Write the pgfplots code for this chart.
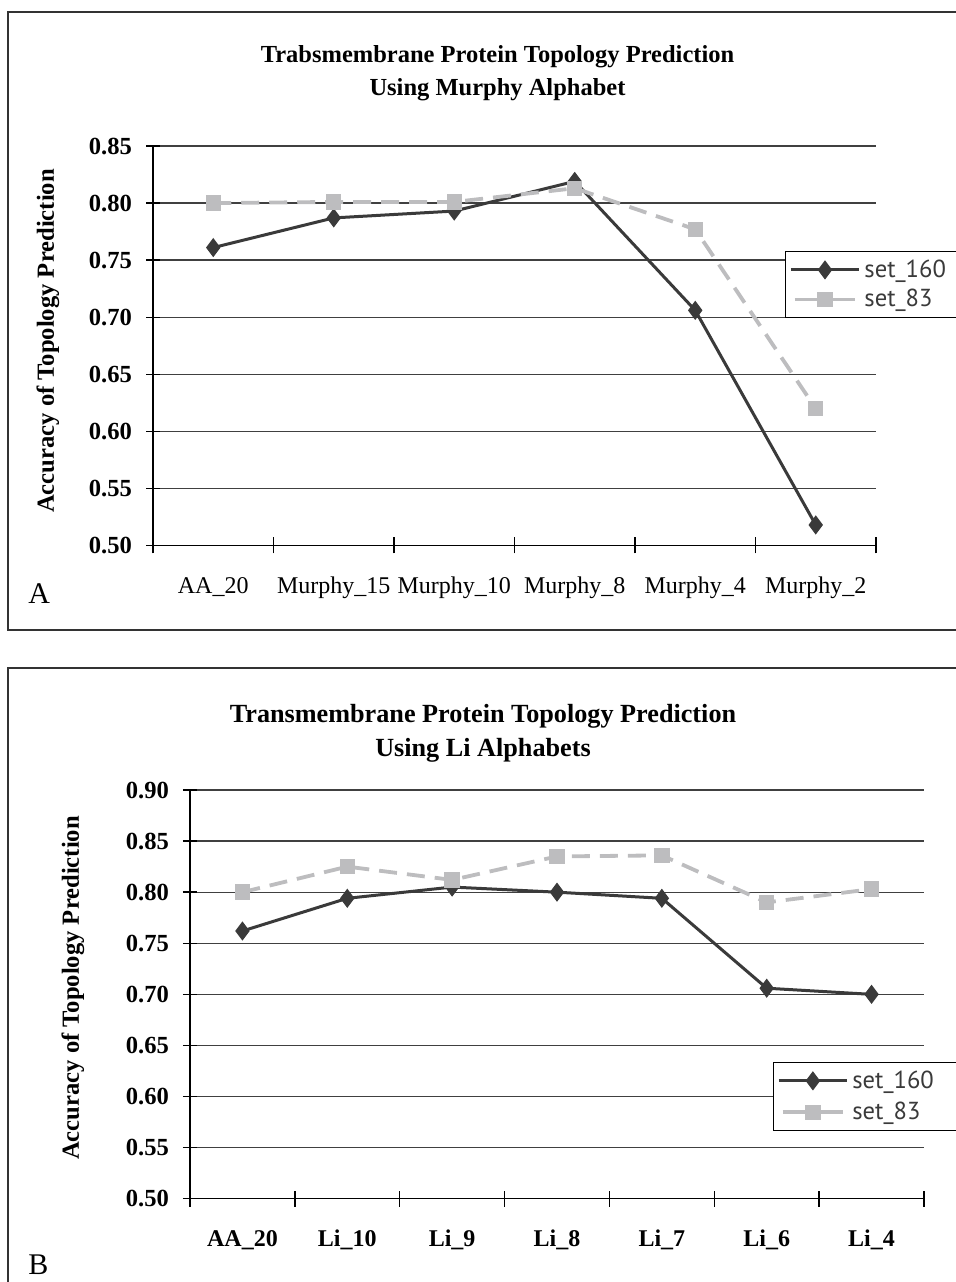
\documentclass[border=0pt]{standalone}
\usepackage{fontspec}
\setmainfont{Liberation Serif}
\newfontfamily\legfont{PT Sans}
\usepackage{pgfplots}
\pgfplotsset{compat=1.18}
\definecolor{dark}{HTML}{3A3A3A}
\definecolor{light}{HTML}{BDBDBF}
\pgfplotsset{
  panel/.style={
    scale only axis,
    axis x line*=bottom, axis y line*=left,
    xmin=0.5, ymin=0.5,
    ymajorgrids,
    grid style={black!75, line width=0.65pt},
    axis line style={black, line width=0.7pt},
    tick align=center,
    major tick length=7pt,
    minor tick length=8pt,
    tick style={black, line width=0.7pt},
    major x tick style={draw=none},
    yticklabel style={/pgf/number format/.cd, fixed, fixed zerofill, precision=2, assume math mode=true, /tikz/.cd, font=\bfseries\fontsize{12.3}{14}\selectfont, xshift=-3.5pt},
    xticklabel style={anchor=base, yshift=-20.5pt},
    legend cell align=left,
    legend image code/.code={\draw[mark repeat=2,mark phase=2,##1] plot coordinates {(0pt,0pt) (17pt,0pt) (34pt,0pt)};},
  },
  s160/.style={dark, line width=1.5pt, mark=diamond*, mark size=4.4pt, mark options={solid, fill=dark, line width=0.5pt}},
  s83/.style={light, line width=1.9pt, dash pattern=on 9pt off 5pt, mark=square*, mark size=3.6pt, mark options={solid, fill=light, line width=0.5pt},
    legend image code/.code={\draw[mark repeat=2,mark phase=2,##1,solid] plot coordinates {(2pt,0pt) (17pt,0pt) (32pt,0pt)};}},
}
\begin{document}
\begin{tikzpicture}
\path[use as bounding box] (0,0) rectangle (478pt,641pt);
% frames
\draw[line width=1pt, black!80] (500pt,635pt) -- (4pt,635pt) -- (4pt,326pt) -- (500pt,326pt);
\draw[line width=1pt, black!80] (500pt,307pt) -- (4pt,307pt) -- (4pt,-10pt);
% titles
\node[anchor=base, font=\bfseries\fontsize{12.25}{14}\selectfont] at (248.75pt,609.5pt) {Trabsmembrane Protein Topology Prediction};
\node[anchor=base, font=\bfseries\fontsize{12.25}{14}\selectfont] at (248.75pt,593pt) {Using Murphy Alphabet};
\node[anchor=base, font=\bfseries\fontsize{13.1}{15}\selectfont] at (241.5pt,279.5pt) {Transmembrane Protein Topology Prediction};
\node[anchor=base, font=\bfseries\fontsize{13.1}{15}\selectfont] at (241.5pt,262.5pt) {Using Li Alphabets};
% y labels
\node[rotate=90, font=\bfseries\fontsize{12.3}{14}\selectfont] at (24pt,470.5pt) {Accuracy of Topology Prediction};
\node[rotate=90, font=\bfseries\fontsize{12.3}{14}\selectfont] at (36.5pt,147pt) {Accuracy of Topology Prediction};
% panel letters
\node[anchor=base west, inner sep=0pt, font=\fontsize{15}{18}\selectfont] at (14pt,339pt) {A};
\node[anchor=base west, inner sep=0pt, font=\fontsize{15}{18}\selectfont] at (14pt,4pt) {B};

\begin{axis}[panel,
  at={(76.5pt,368.25pt)}, anchor=south west,
  width=361.5pt, height=199.75pt,
  xmax=6.5, ymax=0.85,
  ytick={0.50,0.55,0.60,0.65,0.70,0.75,0.80,0.85},
  xtick={1,2,3,4,5,6},
  minor xtick={0.5,1.5,2.5,3.5,4.5,5.5,6.5},
  xticklabels={AA\_20, Murphy\_15, Murphy\_10, Murphy\_8, Murphy\_4, Murphy\_2},
  xticklabel style={font=\fontsize{12}{14}\selectfont},
  legend style={at={(0.874,0.737)}, anchor=north west, draw=black, line width=0.6pt,
    font=\legfont\fontsize{12.3}{14}\selectfont, text=dark, row sep=0.5pt, inner sep=2pt},
]
\addplot[s160] coordinates {(1,0.761) (2,0.787) (3,0.793) (4,0.819) (5,0.706) (6,0.518)};
\addlegendentry{set\_160\kern20pt}
\addplot[s83] coordinates {(1,0.800) (2,0.801) (3,0.801) (4,0.813) (5,0.777) (6,0.620)};
\addlegendentry{set\_83}
\end{axis}

\begin{axis}[panel,
  at={(95pt,41.65pt)}, anchor=south west,
  width=367pt, height=204.35pt,
  xmax=7.5, ymax=0.90,
  ytick={0.50,0.55,0.60,0.65,0.70,0.75,0.80,0.85,0.90},
  xtick={1,2,3,4,5,6,7},
  minor xtick={0.5,1.5,2.5,3.5,4.5,5.5,6.5,7.5},
  xticklabels={AA\_20, Li\_10, Li\_9, Li\_8, Li\_7, Li\_6, Li\_4},
  xticklabel style={font=\bfseries\fontsize{12}{14}\selectfont},
  legend style={at={(0.794,0.3345)}, anchor=north west, draw=black, line width=0.6pt,
    font=\legfont\fontsize{12.3}{14}\selectfont, text=dark, row sep=1.5pt, inner sep=2pt},
]
\addplot[s160] coordinates {(1,0.762) (2,0.794) (3,0.805) (4,0.800) (5,0.794) (6,0.706) (7,0.700)};
\addlegendentry{set\_160\kern25pt}
\addplot[s83] coordinates {(1,0.800) (2,0.825) (3,0.812) (4,0.835) (5,0.836) (6,0.790) (7,0.803)};
\addlegendentry{set\_83}
\end{axis}
\end{tikzpicture}
\end{document}
